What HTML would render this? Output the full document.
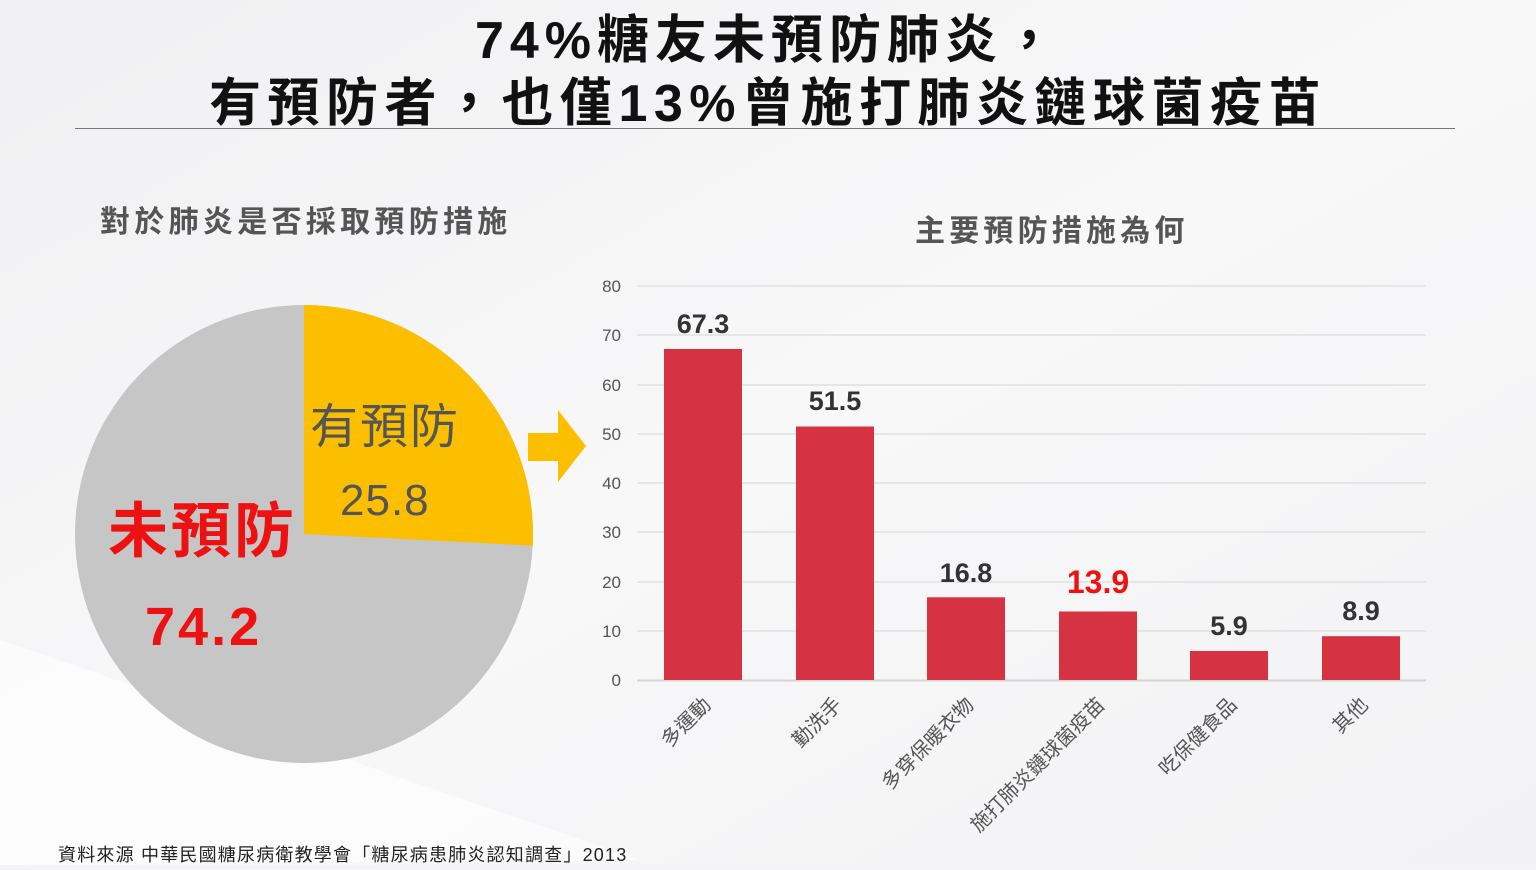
<!DOCTYPE html>
<html><head><meta charset="utf-8"><style>
html,body{margin:0;padding:0;}
body{width:1536px;height:865px;overflow:hidden;background:#f4f4f6;font-family:"Liberation Sans","Noto Sans CJK TC",sans-serif;}
</style></head><body>
<svg width="1536" height="865" viewBox="0 0 1536 865" xmlns="http://www.w3.org/2000/svg" font-family="Liberation Sans, Noto Sans CJK TC, sans-serif">
<defs><linearGradient id="bg" x1="0" y1="0" x2="1" y2="1"><stop offset="0" stop-color="#f0f0f2"/><stop offset="0.5" stop-color="#f8f8f9"/><stop offset="1" stop-color="#f2f2f4"/></linearGradient></defs>
<rect width="1536" height="865" fill="url(#bg)"/>
<polygon points="0,640 640,860 0,865" fill="#ffffff" opacity="0.6"/>
<text x="768" y="58" text-anchor="middle" font-size="52" font-weight="bold" fill="#111" letter-spacing="6">74%糖友未預防肺炎，</text>
<text x="768" y="121" text-anchor="middle" font-size="52" font-weight="bold" fill="#111" letter-spacing="6.5">有預防者，也僅13%曾施打肺炎鏈球菌疫苗</text>
<line x1="75" y1="128.5" x2="1455" y2="128.5" stroke="#777" stroke-width="1"/>
<text x="100" y="232" font-size="30" font-weight="bold" fill="#555" letter-spacing="4.3">對於肺炎是否採取預防措施</text>
<text x="915" y="241" font-size="30" font-weight="bold" fill="#555" letter-spacing="4.2">主要預防措施為何</text>
<circle cx="304" cy="534" r="229" fill="#c6c6c6"/>
<path d="M304,534 L304,305 A229,229 0 0,1 532.7,545.6 Z" fill="#fcbf00"/>
<text x="310" y="443" font-size="48" fill="#555" letter-spacing="2">有預防</text>
<text x="340" y="515" font-size="44" fill="#555" letter-spacing="1">25.8</text>
<text x="108" y="552" font-size="60" font-weight="bold" fill="#ee1111" letter-spacing="3">未預防</text>
<text x="145" y="645" font-size="54" font-weight="bold" fill="#ee1111" letter-spacing="3">74.2</text>
<polygon points="528,433 558,433 558,410 586,446 558,482 558,461 528,461" fill="#fcbf00"/>
<g stroke="#dcdcdc" stroke-width="1.3">
<line x1="637" y1="286" x2="1426" y2="286"/><line x1="637" y1="335" x2="1426" y2="335"/><line x1="637" y1="385" x2="1426" y2="385"/><line x1="637" y1="434" x2="1426" y2="434"/><line x1="637" y1="483" x2="1426" y2="483"/><line x1="637" y1="532" x2="1426" y2="532"/><line x1="637" y1="582" x2="1426" y2="582"/><line x1="637" y1="631" x2="1426" y2="631"/>
</g>
<line x1="637" y1="680.5" x2="1426" y2="680.5" stroke="#d4d4d4" stroke-width="2"/>
<g font-size="17" fill="#555" text-anchor="end">
<text x="621" y="292">80</text><text x="621" y="341">70</text><text x="621" y="391">60</text><text x="621" y="440">50</text><text x="621" y="489">40</text><text x="621" y="538">30</text><text x="621" y="588">20</text><text x="621" y="637">10</text><text x="621" y="686">0</text>
</g>
<g fill="#d53342">
<rect x="664" y="349" width="78" height="331"/><rect x="796" y="426.5" width="78" height="253.5"/><rect x="927" y="597.3" width="78" height="82.7"/><rect x="1059" y="611.5" width="78" height="68.5"/><rect x="1190" y="651" width="78" height="29"/><rect x="1322" y="636.2" width="78" height="43.8"/>
</g>
<g font-size="27" font-weight="bold" fill="#333" text-anchor="middle">
<text x="703" y="333">67.3</text><text x="835" y="410">51.5</text><text x="966" y="582">16.8</text><text x="1098" y="593" fill="#ee1111" font-size="32">13.9</text><text x="1229" y="635">5.9</text><text x="1361" y="620">8.9</text>
</g>
<g font-size="20" fill="#555" text-anchor="end">
<text transform="translate(712,706) rotate(-45)">多運動</text>
<text transform="translate(843,706) rotate(-45)">勤洗手</text>
<text transform="translate(975,706) rotate(-45)">多穿保暖衣物</text>
<text transform="translate(1106,706) rotate(-45)">施打肺炎鏈球菌疫苗</text>
<text transform="translate(1238,706) rotate(-45)">吃保健食品</text>
<text transform="translate(1369,706) rotate(-45)">其他</text>
</g>
<text x="58" y="861" font-size="18" fill="#222" letter-spacing="1.2">資料來源 中華民國糖尿病衛教學會「糖尿病患肺炎認知調查」2013</text>
</svg>
</body></html>
